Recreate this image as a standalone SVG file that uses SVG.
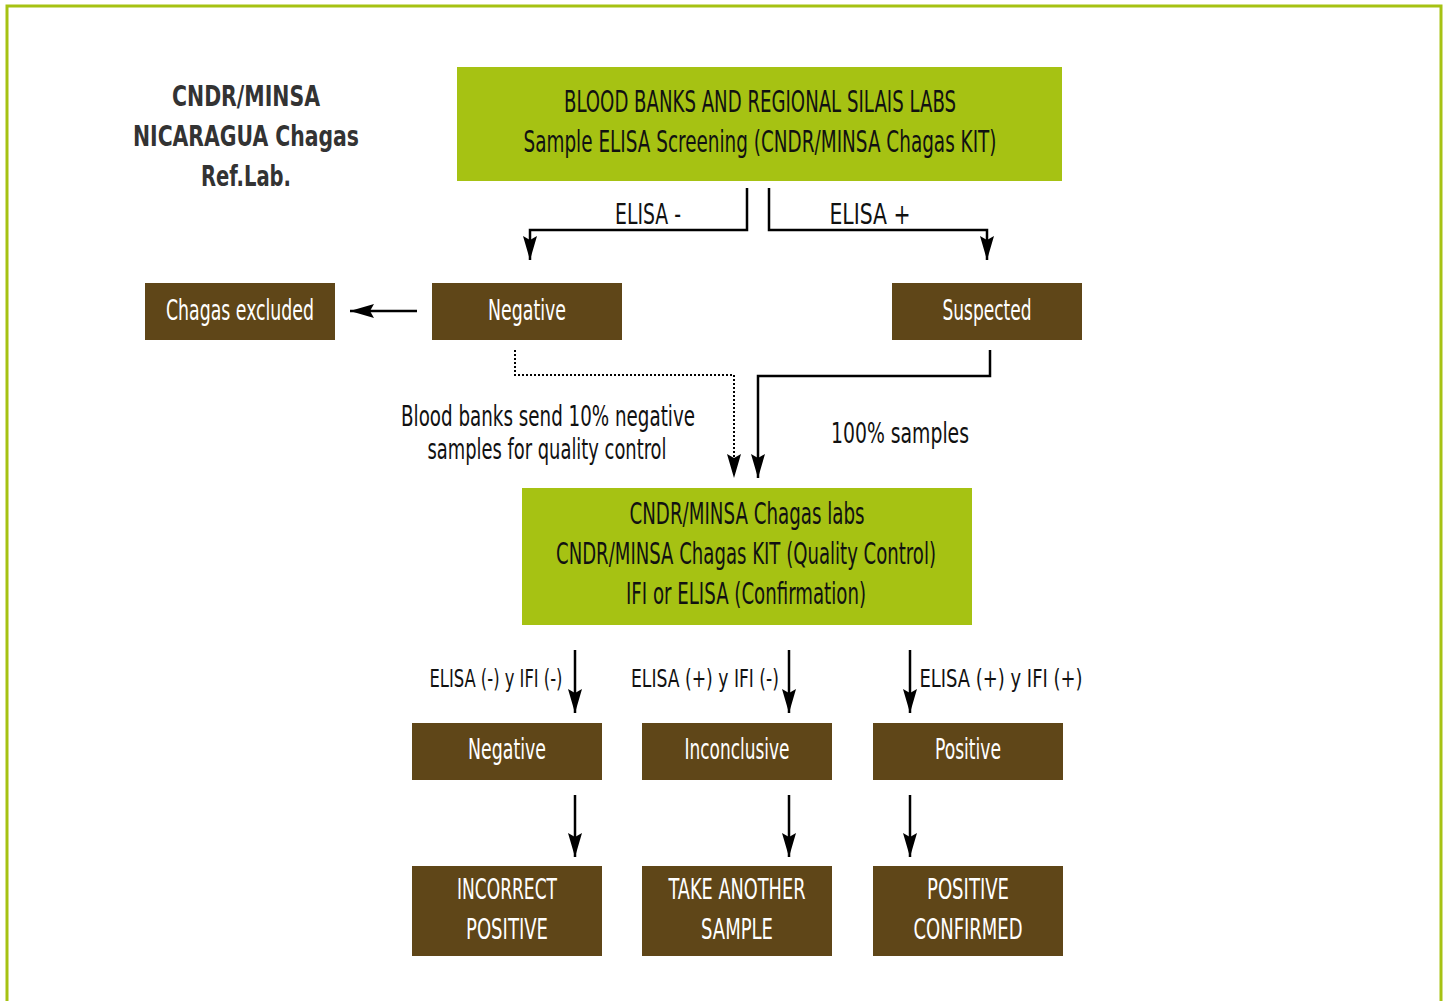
<svg xmlns="http://www.w3.org/2000/svg" width="1448" height="1001" viewBox="0 0 1448 1001">
<defs>
<style>
.frame{fill:#fff;stroke:#a6c213;stroke-width:3}
.g{fill:#a6c213}
.b{fill:#5f4618}
.t{font-family:"DejaVu Sans Condensed","Liberation Sans",sans-serif;text-anchor:middle}
.tw{fill:#fff}
.tk{fill:#111}
.title{font-family:"DejaVu Sans Condensed","Liberation Sans",sans-serif;font-weight:bold;fill:#333;text-anchor:middle;font-size:28px}
.c{fill:none;stroke:#000;stroke-width:2.5}
.d{fill:none;stroke:#000;stroke-width:2;stroke-dasharray:2 2}
</style>
<marker id="ah" markerUnits="userSpaceOnUse" markerWidth="24" markerHeight="14" viewBox="0 0 24 14" refX="24" refY="7" orient="auto">
<path d="M0,0 L4,7 L0,14 L24,7 Z" fill="#000"/>
</marker>
</defs>
<rect class="frame" x="7" y="6" width="1434" height="1010"/>

<g id="title">
<text class="title" x="246" y="106" textLength="148" lengthAdjust="spacingAndGlyphs">CNDR/MINSA</text>
<text class="title" x="246" y="146" textLength="226" lengthAdjust="spacingAndGlyphs">NICARAGUA Chagas</text>
<text class="title" x="246" y="186" textLength="90" lengthAdjust="spacingAndGlyphs">Ref.Lab.</text>
</g>

<g id="connectors">
<polyline class="c" points="747,188 747,230 530,230 530,260" marker-end="url(#ah)"/>
<polyline class="c" points="769,188 769,230 987,230 987,260" marker-end="url(#ah)"/>
<line class="c" x1="417" y1="311" x2="350" y2="311" marker-end="url(#ah)"/>
<polyline class="d" points="515,350 515,375 734,375 734,462"/>
<path d="M727,454 L734,458 L741,454 L734,478 Z" fill="#000"/>
<polyline class="c" points="990,350 990,376 758,376 758,478" marker-end="url(#ah)"/>
<line class="c" x1="575" y1="650" x2="575" y2="713" marker-end="url(#ah)"/>
<line class="c" x1="789" y1="650" x2="789" y2="713" marker-end="url(#ah)"/>
<line class="c" x1="910" y1="650" x2="910" y2="713" marker-end="url(#ah)"/>
<line class="c" x1="575" y1="795" x2="575" y2="857" marker-end="url(#ah)"/>
<line class="c" x1="789" y1="795" x2="789" y2="857" marker-end="url(#ah)"/>
<line class="c" x1="910" y1="795" x2="910" y2="857" marker-end="url(#ah)"/>
<text class="t tk" x="648" y="224" font-size="28" textLength="66" lengthAdjust="spacingAndGlyphs">ELISA -</text>
<text class="t tk" x="870" y="224" font-size="28" textLength="81" lengthAdjust="spacingAndGlyphs">ELISA +</text>
<text class="t tk" x="548" y="426" font-size="28" textLength="294" lengthAdjust="spacingAndGlyphs">Blood banks send 10% negative</text>
<text class="t tk" x="547" y="459" font-size="28" textLength="239" lengthAdjust="spacingAndGlyphs">samples for quality control</text>
<text class="t tk" x="900" y="443" font-size="28" textLength="138" lengthAdjust="spacingAndGlyphs">100% samples</text>
<text class="t tk" x="496" y="687" font-size="24" textLength="133" lengthAdjust="spacingAndGlyphs">ELISA (-) y IFI (-)</text>
<text class="t tk" x="705" y="687" font-size="24" textLength="148" lengthAdjust="spacingAndGlyphs">ELISA (+) y IFI (-)</text>
<text class="t tk" x="1001" y="687" font-size="24" textLength="163" lengthAdjust="spacingAndGlyphs">ELISA (+) y IFI (+)</text>
</g>

<g id="n-top">
<rect class="g" x="457" y="67" width="605" height="114"/>
<text class="t tk" x="760" y="112" font-size="30" textLength="392" lengthAdjust="spacingAndGlyphs">BLOOD BANKS AND REGIONAL SILAIS LABS</text>
<text class="t tk" x="760" y="152" font-size="30" textLength="473" lengthAdjust="spacingAndGlyphs">Sample ELISA Screening  (CNDR/MINSA Chagas KIT)</text>
</g>
<g id="n-excluded">
<rect class="b" x="145" y="283" width="190" height="57"/>
<text class="t tw" x="240" y="320" font-size="29" textLength="148" lengthAdjust="spacingAndGlyphs">Chagas excluded</text>
</g>
<g id="n-negative1">
<rect class="b" x="432" y="283" width="190" height="57"/>
<text class="t tw" x="527" y="320" font-size="29" textLength="78" lengthAdjust="spacingAndGlyphs">Negative</text>
</g>
<g id="n-suspected">
<rect class="b" x="892" y="283" width="190" height="57"/>
<text class="t tw" x="987" y="320" font-size="29" textLength="89" lengthAdjust="spacingAndGlyphs">Suspected</text>
</g>
<g id="n-labs">
<rect class="g" x="522" y="488" width="450" height="137"/>
<text class="t tk" x="747" y="524" font-size="30" textLength="235" lengthAdjust="spacingAndGlyphs">CNDR/MINSA Chagas labs</text>
<text class="t tk" x="746" y="564" font-size="30" textLength="380" lengthAdjust="spacingAndGlyphs">CNDR/MINSA Chagas KIT (Quality Control)</text>
<text class="t tk" x="746" y="604" font-size="30" textLength="240" lengthAdjust="spacingAndGlyphs">IFI or ELISA (Confirmation)</text>
</g>
<g id="n-negative2">
<rect class="b" x="412" y="723" width="190" height="57"/>
<text class="t tw" x="507" y="759" font-size="29" textLength="78" lengthAdjust="spacingAndGlyphs">Negative</text>
</g>
<g id="n-inconclusive">
<rect class="b" x="642" y="723" width="190" height="57"/>
<text class="t tw" x="737" y="759" font-size="29" textLength="105" lengthAdjust="spacingAndGlyphs">Inconclusive</text>
</g>
<g id="n-positive">
<rect class="b" x="873" y="723" width="190" height="57"/>
<text class="t tw" x="968" y="759" font-size="29" textLength="66" lengthAdjust="spacingAndGlyphs">Positive</text>
</g>
<g id="n-incorrect">
<rect class="b" x="412" y="866" width="190" height="90"/>
<text class="t tw" x="507" y="899" font-size="29" textLength="100" lengthAdjust="spacingAndGlyphs">INCORRECT</text>
<text class="t tw" x="507" y="939" font-size="29" textLength="82" lengthAdjust="spacingAndGlyphs">POSITIVE</text>
</g>
<g id="n-another">
<rect class="b" x="642" y="866" width="190" height="90"/>
<text class="t tw" x="737" y="899" font-size="29" textLength="137" lengthAdjust="spacingAndGlyphs">TAKE ANOTHER</text>
<text class="t tw" x="737" y="939" font-size="29" textLength="72" lengthAdjust="spacingAndGlyphs">SAMPLE</text>
</g>
<g id="n-confirmed">
<rect class="b" x="873" y="866" width="190" height="90"/>
<text class="t tw" x="968" y="899" font-size="29" textLength="82" lengthAdjust="spacingAndGlyphs">POSITIVE</text>
<text class="t tw" x="968" y="939" font-size="29" textLength="109" lengthAdjust="spacingAndGlyphs">CONFIRMED</text>
</g>
</svg>
